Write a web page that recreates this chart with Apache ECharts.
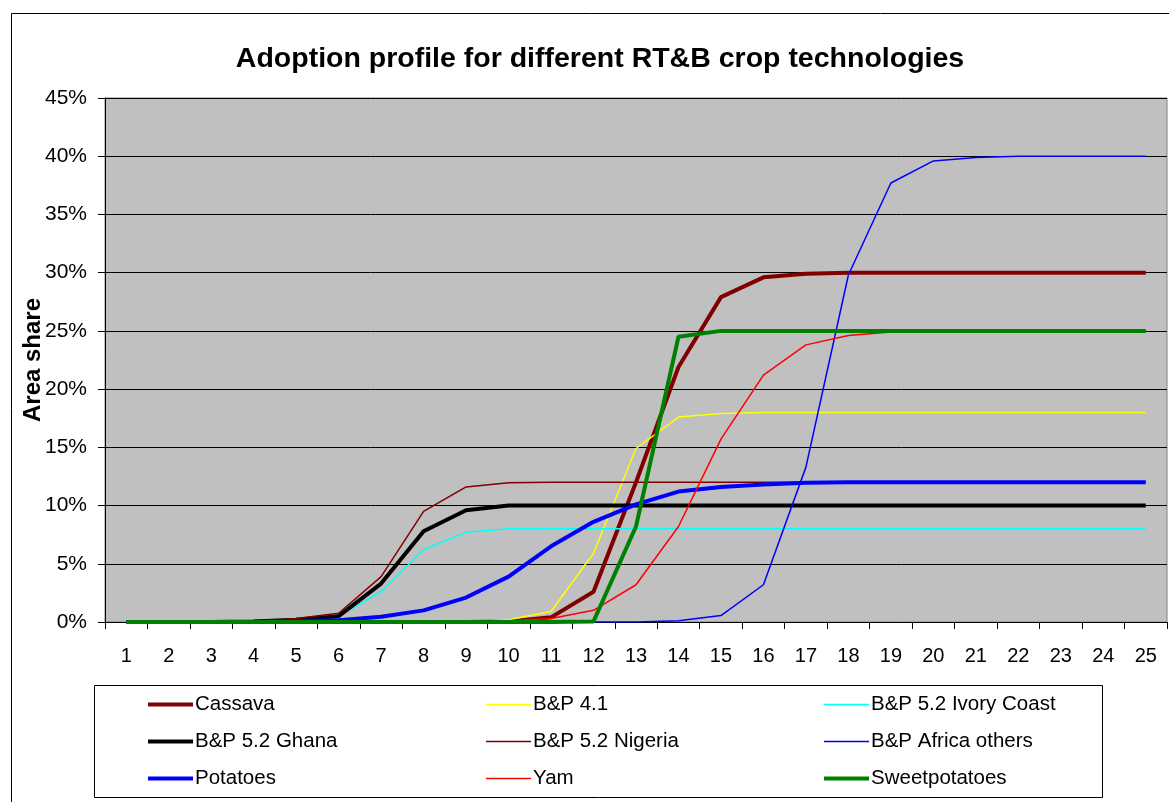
<!DOCTYPE html>
<html>
<head>
<meta charset="utf-8">
<title>Adoption profile</title>
<script src="https://cdn.jsdelivr.net/npm/echarts@6/dist/echarts.min.js"></script>
<style>
    html,body{margin:0;padding:0;background:#fff;}
    #main{width:1169px;height:802px;}
</style>
</head>
<body>
<div id="main"></div>
<script>
    // x axis: years 1..25
    var years = ['1','2','3','4','5','6','7','8','9','10','11','12','13','14','15','16','17','18','19','20','21','22','23','24','25'];
    // y tick labels run 0..45 step 5, shown as %

    // values are area share in percent
    var cassava      = [0,0,0,0,0,0,0,0,0,0.05,0.4,2.6,12,21.9,27.9,29.6,29.9,30,30,30,30,30,30,30,30];
    var bp41         = [0,0,0,0,0,0,0,0,0,0.2,0.9,5.9,14.9,17.6,17.9,18,18,18,18,18,18,18,18,18,18];
    var bp52Ivory    = [0,0,0,0.05,0.15,0.5,2.6,6.2,7.7,8,8,8,8,8,8,8,8,8,8,8,8,8,8,8,8];
    var bp52Ghana    = [0,0,0,0.05,0.2,0.5,3.3,7.8,9.6,10,10,10,10,10,10,10,10,10,10,10,10,10,10,10,10];
    var bp52Nigeria  = [0,0,0,0.05,0.3,0.75,3.9,9.5,11.6,11.95,12,12,12,12,12,12,12,12,12,12,12,12,12,12,12];
    var bpAfrica     = [0,0,0,0,0,0,0,0,0,0,0,0,0,0.1,0.55,3.2,13.3,29.8,37.7,39.6,39.9,40,40,40,40];
    var potatoes     = [0,0,0,0.03,0.08,0.15,0.45,1.0,2.1,3.9,6.5,8.6,10.1,11.2,11.6,11.8,11.95,12,12,12,12,12,12,12,12];
    var yam          = [0,0,0,0,0,0,0,0,0,0.1,0.3,1.0,3.2,8.2,15.7,21.2,23.8,24.6,24.9,25,25,25,25,25,25];
    var sweetpotatoes= [0,0,0,0,0,0,0,0,0,0,0,0.05,8.2,24.5,25,25,25,25,25,25,25,25,25,25,25];

    var fontName = "'Liberation Sans', Arial, sans-serif";

    // legend keys: plain line strokes, thick or thin
    var thickKey = 'path://M0,0L45,0L45,4L0,4Z';
    var thinKey = 'path://M0,0L45,0L45,1.5L0,1.5Z';

    function lineSeries(name, data, color, width){
        return {
            name: name,
            type: 'line',
            data: data,
            symbol: 'none',
            smooth: false,
            animation: false,
            lineStyle: {color: color, width: width},
            itemStyle: {color: color}
        };
    }

    // one legend per column so the three columns line up like the original
    function legendCol(left, names, keys){
        return {
            orient: 'vertical',
            left: left,
            top: 689,
            itemWidth: 45,
            itemHeight: 20,
            itemGap: 16,
            data: names.map(function(n, i){ return {name: n, icon: keys[i]}; }),
            textStyle: {fontFamily: fontName, fontSize: 20.5, color: '#000', lineHeight: 20, padding: [0, 0, 0, -3]}
        };
    }

    var myChart = echarts.init(document.getElementById('main'));
    var option = {
        backgroundColor: '#fff',
        animation: false,
        title: {
            text: 'Adoption profile for different RT&B crop technologies',
            left: 595,
            top: 40,
            textAlign: 'center',
            textStyle: {fontFamily: fontName, fontSize: 28.5, fontWeight: 'bold', color: '#000'}
        },
        graphic: [
            {   // outer chart frame
                type: 'rect',
                shape: {x: 11.5, y: 13.5, width: 1200, height: 820},
                style: {fill: 'none', stroke: '#000', lineWidth: 1},
                silent: true
            },
            {   // legend box
                type: 'rect',
                shape: {x: 94.5, y: 685.5, width: 1008, height: 112},
                style: {fill: 'none', stroke: '#000', lineWidth: 1},
                silent: true
            }
        ],
        legend: [
            legendCol(143, ['Cassava', 'B&P 5.2 Ghana', 'Potatoes'], [thickKey, thickKey, thickKey]),
            legendCol(481, ['B&P 4.1', 'B&P 5.2 Nigeria', 'Yam'], [thinKey, thinKey, thinKey]),
            legendCol(819, ['B&P 5.2 Ivory Coast', 'B&P Africa others', 'Sweetpotatoes'], [thinKey, thinKey, thickKey])
        ],
        grid: {
            left: 105,
            right: 2,
            top: 98,
            bottom: 180,
            show: true,
            backgroundColor: '#C0C0C0',
            borderColor: '#808080',
            borderWidth: 1
        },
        xAxis: {
            type: 'category',
            data: years,
            boundaryGap: true,
            axisLine: {lineStyle: {color: '#000', width: 1}},
            axisTick: {show: true, length: 7, lineStyle: {color: '#000'}},
            axisLabel: {fontFamily: fontName, fontSize: 20, color: '#000', margin: 24, interval: 0},
            splitLine: {show: false}
        },
        yAxis: {
            type: 'value',
            min: 0,
            max: 45,
            interval: 5,
            name: 'Area share',
            nameLocation: 'middle',
            nameGap: 60,
            nameMoveOverlap: false,
            nameTextStyle: {fontFamily: fontName, fontSize: 24, fontWeight: 'bold', color: '#000'},
            axisLine: {show: true, lineStyle: {color: '#000', width: 1}},
            axisTick: {show: true, length: 7, lineStyle: {color: '#000'}},
            axisLabel: {fontFamily: fontName, fontSize: 21, color: '#000', margin: 18, formatter: '{value}%'},
            splitLine: {show: true, lineStyle: {color: '#000', width: 1}}
        },
        series: [
            lineSeries('Cassava', cassava, '#800000', 4),
            lineSeries('B&P 4.1', bp41, '#FFFF00', 1.5),
            lineSeries('B&P 5.2 Ivory Coast', bp52Ivory, '#00FFFF', 1.5),
            lineSeries('B&P 5.2 Ghana', bp52Ghana, '#000000', 4),
            lineSeries('B&P 5.2 Nigeria', bp52Nigeria, '#800000', 1.5),
            lineSeries('B&P Africa others', bpAfrica, '#0000FF', 1.5),
            lineSeries('Potatoes', potatoes, '#0000FF', 4),
            lineSeries('Yam', yam, '#FF0000', 1.5),
            lineSeries('Sweetpotatoes', sweetpotatoes, '#008000', 4)
        ]
    };
    myChart.setOption(option);
</script>
</body>
</html>
